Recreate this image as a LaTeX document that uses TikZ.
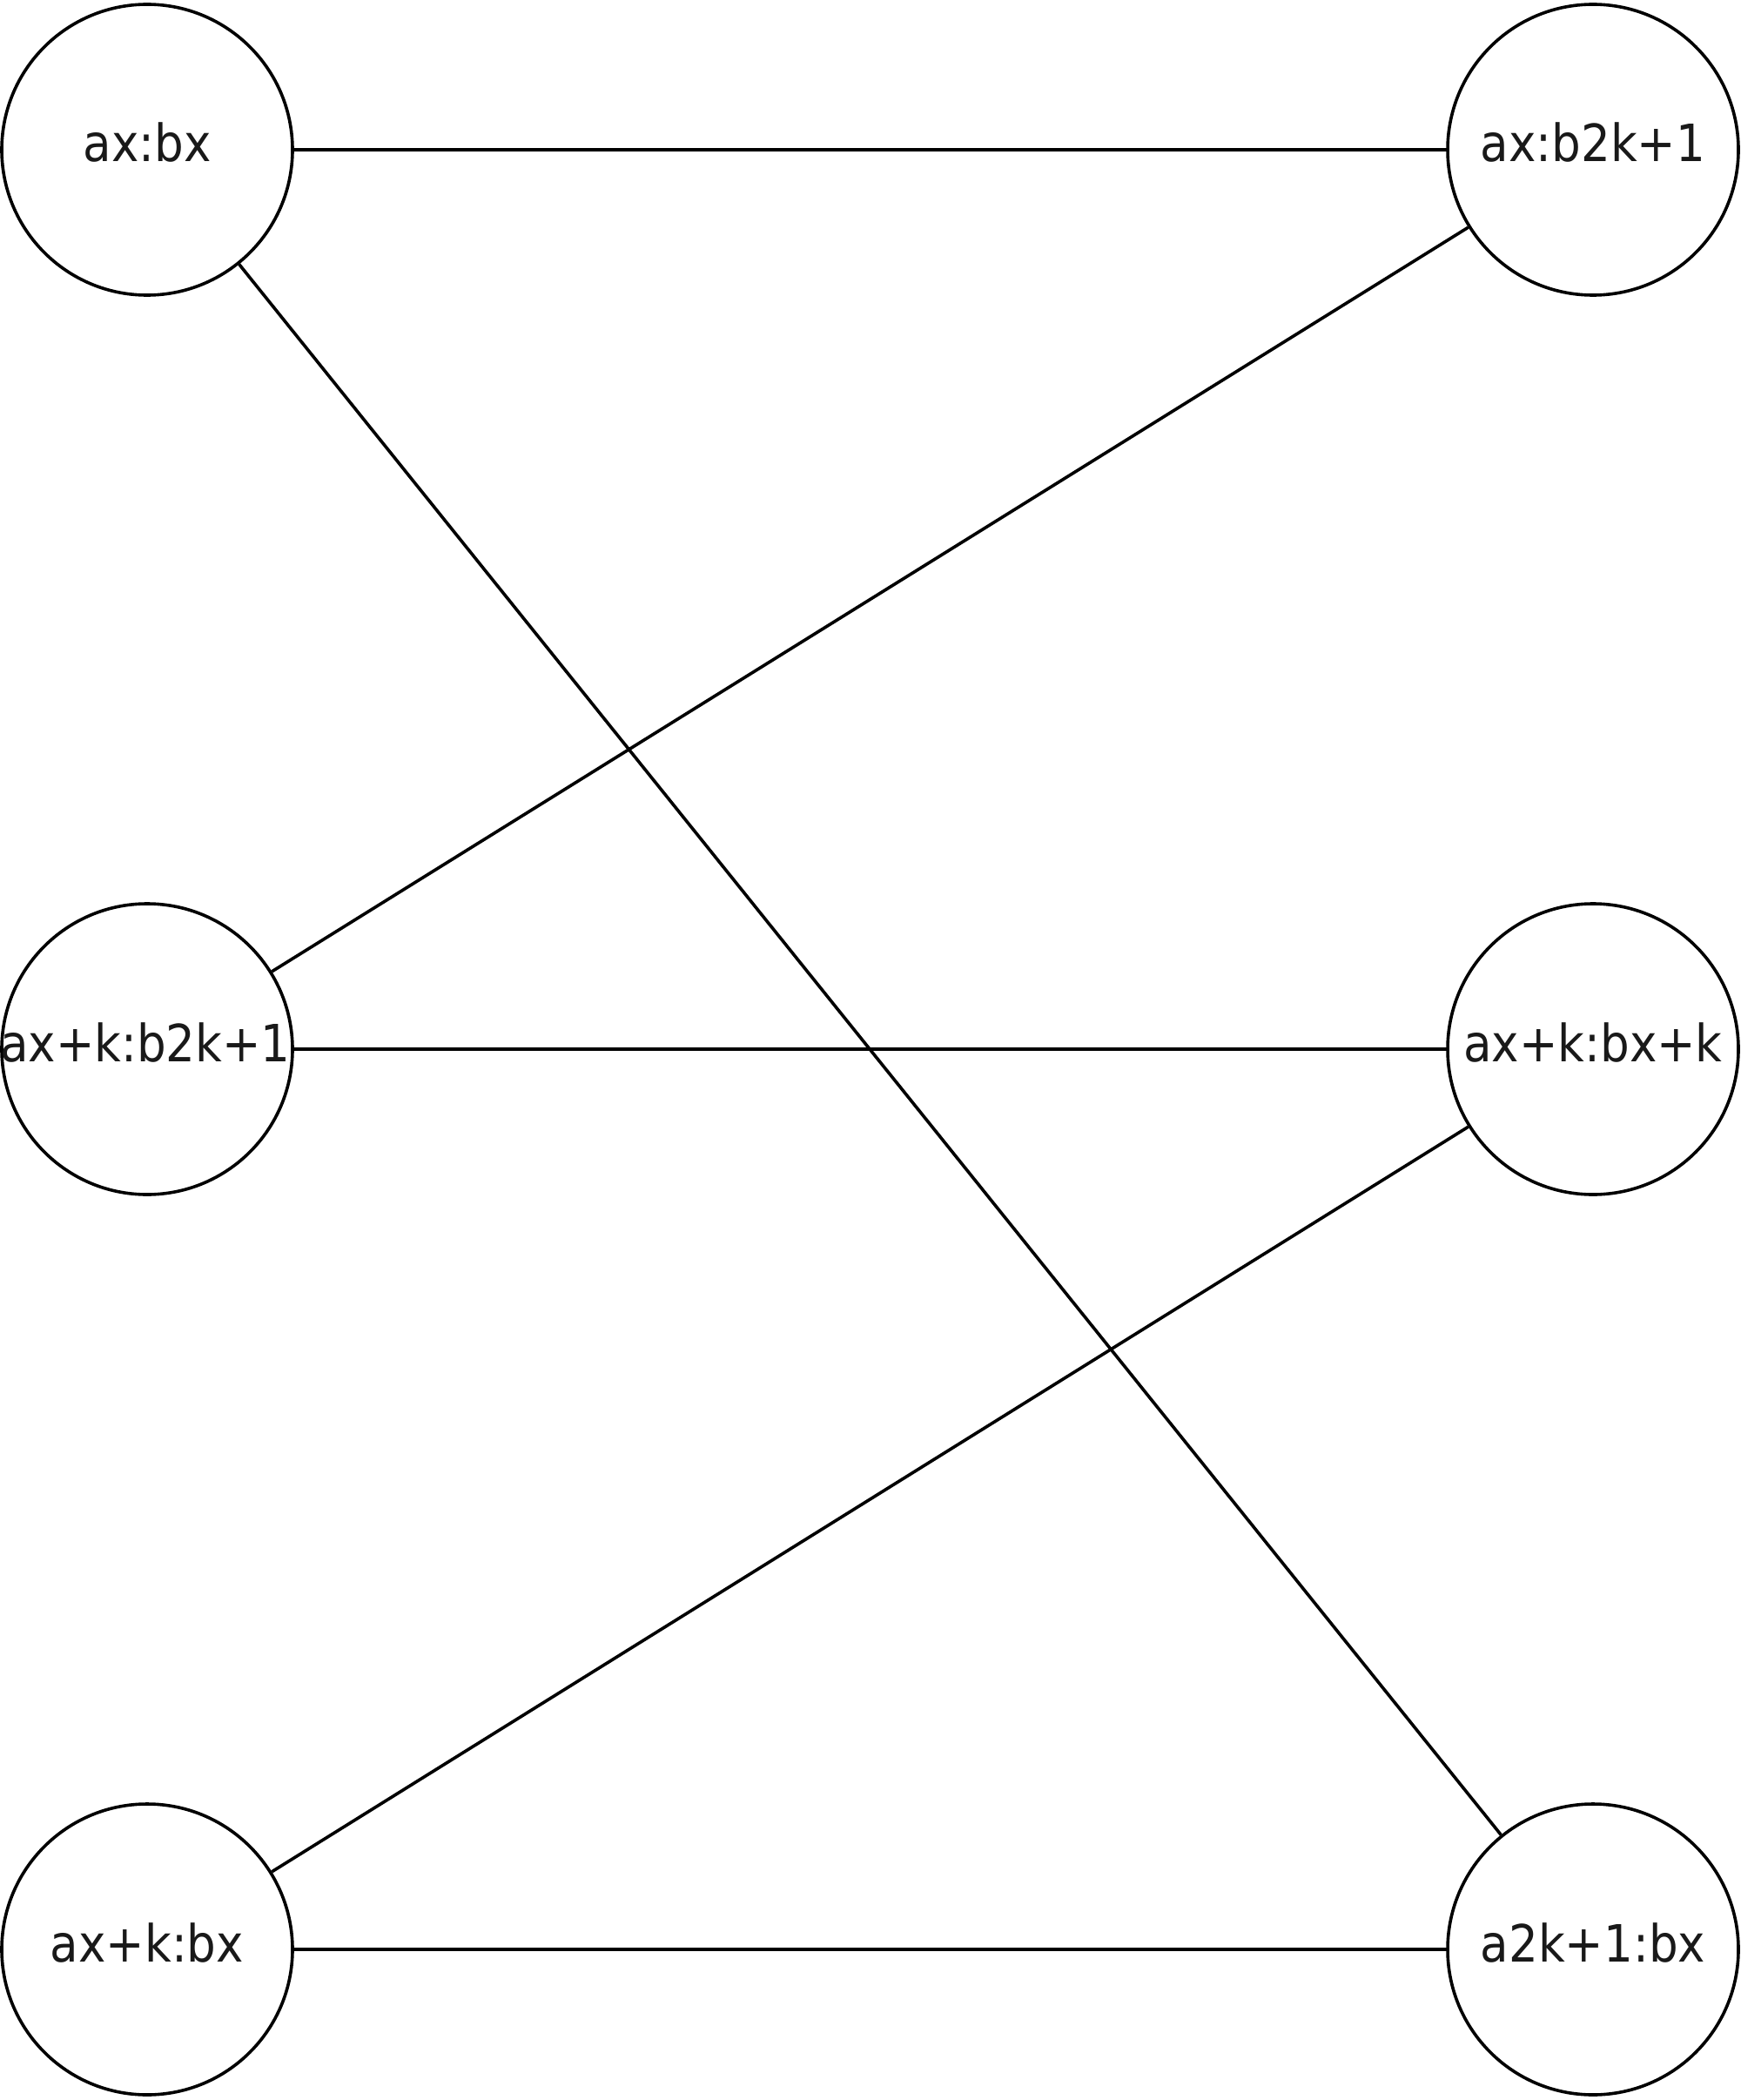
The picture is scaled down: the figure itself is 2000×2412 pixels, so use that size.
\documentclass[tikz,border=0pt]{standalone}
\usepackage{fontspec}
\newfontfamily\lblfont{DejaVu Sans Condensed}
\begin{document}
\begin{tikzpicture}[x=0.5pt,y=-0.5pt,
  circ/.style={draw=black,line width=1.8pt,circle,minimum size=167pt,inner sep=0pt},
  lbl/.style={anchor=base,inner sep=0pt,font=\lblfont\fontsize{29.5}{34}\selectfont,text=black!90},
  edge/.style={draw=black,line width=1.8pt}]
\useasboundingbox (0,0) rectangle (2000,2412);
\node[circ] (n1) at (169,172) {};
\node[circ] (n2) at (1830,172) {};
\node[circ] (n3) at (169,1205) {};
\node[circ] (n4) at (1830,1205) {};
\node[circ] (n5) at (169,2239) {};
\node[circ] (n6) at (1830,2239) {};
\node[lbl] (t1) at (169,186) {ax:bx};
\node[lbl] (t2) at (1830,186) {ax:b2k+1};
\node[lbl] (t3) at (167,1219) {ax+k:b2k+1};
\node[lbl] (t4) at (1830,1219) {ax+k:bx+k};
\node[lbl] (t5) at (169,2253) {ax+k:bx};
\node[lbl] (t6) at (1830,2253) {a2k+1:bx};
\draw[edge] (n1) -- (n2);
\draw[edge] (n1) -- (n6);
\draw[edge] (n2) -- (n3);
\draw[edge] (n3) -- (n4);
\draw[edge] (n4) -- (n5);
\draw[edge] (n5) -- (n6);
\end{tikzpicture}
\end{document}
